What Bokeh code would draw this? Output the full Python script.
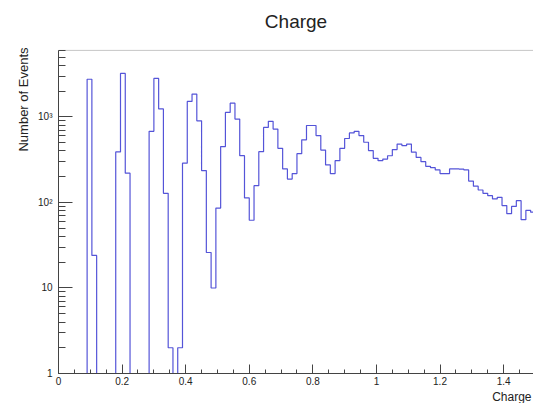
import numpy as np
from bokeh.plotting import figure
from bokeh.models import FixedTicker, BoxAnnotation, Range1d, Title
from bokeh.embed import file_html
from bokeh.resources import INLINE

# Histogram definition
x_lo = 0.0
x_hi = 1.5
n_bins = 100

# Bin contents, one value per 0.015-wide bin
counts = [
    0, 0, 0, 0, 0, 0, 2760, 24, 0, 0,
    0, 0, 390, 3230, 220, 0, 0, 0, 0, 680,
    2820, 1240, 128, 2, 0, 2, 288, 1520, 1850, 900,
    236, 26, 10, 86, 450, 1130, 1450, 945, 353, 113,
    62, 157, 393, 755, 890, 722, 430, 247, 188, 218,
    372, 540, 795, 795, 605, 410, 275, 218, 308, 430,
    560, 650, 680, 605, 506, 404, 328, 308, 322, 352,
    415, 482, 463, 482, 387, 336, 300, 265, 255, 240,
    218, 218, 247, 247, 245, 240, 178, 155, 140, 128,
    120, 110, 115, 92, 74, 90, 105, 63, 81, 77,
]

# ROOT frame (histogram axes limits)
y_min = 1
y_max = 6000

x_ticks = [0, 0.2, 0.4, 0.6, 0.8, 1.0, 1.2, 1.4]
x_tick_labels = ["0", "0.2", "0.4", "0.6", "0.8", "1", "1.2", "1.4"]
y_ticks = [1, 10, 100, 1000]
y_tick_labels = ["1", "10", "10\u00b2", "10\u00b3"]

title_text = "Charge"
x_title = "Charge"
y_title = "Number of Events"

FONT = "Liberation Sans"
LINE = "#5454d8"
AXC = "#444444"
TXT = "#222222"

edges = np.linspace(x_lo, x_hi, n_bins + 1)
vals = np.array(counts, dtype=float)
y_draw = np.where(vals > 0, vals, float(y_min))
y_step = np.append(y_draw, y_draw[-1])

# plot area extends a little above the ROOT frame to leave room for the title
p = figure(width=533, height=403,
           x_range=Range1d(0, 1.494), y_range=Range1d(y_min, 8050),
           y_axis_type="log", output_backend="svg", toolbar_location=None,
           min_border_left=58, min_border_right=0, min_border_top=39, min_border_bottom=28)

p.title.text = title_text
p.title.align = "center"
p.title.text_font = FONT
p.title.text_font_size = "19px"
p.title.text_font_style = "normal"
p.title.text_color = TXT
p.title.standoff = 15

p.outline_line_color = None
p.xgrid.visible = False
p.ygrid.visible = False

# ROOT-style frame box (top edge; right edge lies beyond the visible range)
p.add_layout(BoxAnnotation(left=x_lo, right=x_hi, bottom=y_min, top=y_max,
                           fill_alpha=0, line_color=AXC, line_width=1))

p.step(edges, y_step, mode="after", line_color=LINE, line_width=1.2)

# X axis
minor_x = [round(0.05 * k, 2) for k in range(0, 31)]
p.xaxis.ticker = FixedTicker(ticks=x_ticks, minor_ticks=minor_x)
p.xaxis.major_label_overrides = {t: l for t, l in zip(x_ticks, x_tick_labels)}
p.xaxis.major_tick_in = 9
p.xaxis.major_tick_out = 0
p.xaxis.minor_tick_in = 4
p.xaxis.minor_tick_out = 0
p.xaxis.major_label_standoff = 3
p.xaxis.major_label_text_font = FONT
p.xaxis.major_label_text_font_size = "10px"
p.xaxis.major_label_text_color = TXT
p.xaxis.axis_line_color = AXC
p.xaxis.major_tick_line_color = AXC
p.xaxis.minor_tick_line_color = AXC

# Y axis (line limited to the ROOT frame)
minor_y = [m * 10 ** e for e in range(0, 4) for m in range(2, 10) if m * 10 ** e <= y_max]
p.yaxis.ticker = FixedTicker(ticks=y_ticks, minor_ticks=minor_y)
p.yaxis.bounds = (y_min, y_max)
p.yaxis.major_label_overrides = {t: l for t, l in zip(y_ticks, y_tick_labels)}
p.yaxis.major_tick_in = 14
p.yaxis.major_tick_out = 0
p.yaxis.minor_tick_in = 7
p.yaxis.minor_tick_out = 0
p.yaxis.major_label_standoff = 6
p.yaxis.major_label_text_font = FONT
p.yaxis.major_label_text_font_size = "10px"
p.yaxis.major_label_text_color = TXT
p.yaxis.axis_line_color = AXC
p.yaxis.major_tick_line_color = AXC
p.yaxis.minor_tick_line_color = AXC

# Axis titles (ROOT style: aligned to the axis end)
p.add_layout(Title(text=y_title, align="right", standoff=10, offset=8, text_font=FONT,
                   text_font_size="13px", text_font_style="normal", text_color=TXT), "left")
p.add_layout(Title(text=x_title, align="right", standoff=0, offset=2, text_font=FONT,
                   text_font_size="12px", text_font_style="normal", text_color=TXT), "below")

open("out.html", "w").write(file_html(p, INLINE))
